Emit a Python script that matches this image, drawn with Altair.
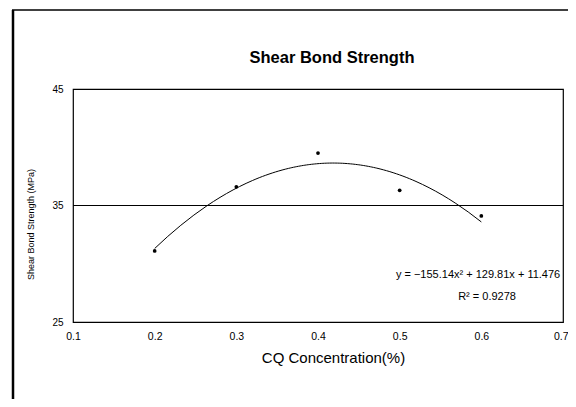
import altair as alt
import pandas as pd

conc = [0.2, 0.3, 0.4, 0.5, 0.6]
strength = [31.1, 36.6, 39.5, 36.3, 34.1]
eq_lines = ["y = \u2212155.14x\u00b2 + 129.81x + 11.476", "R\u00b2 = 0.9278"]
eq_x = [0.596, 0.607]
eq_y = [29.0, 27.15]
ref_value = [35]
title_text = ["Shear Bond Strength"]

df = pd.DataFrame({"x": conc, "y": strength})
eq = pd.DataFrame({"t": eq_lines, "x": eq_x, "y": eq_y})
ref = pd.DataFrame({"y": ref_value})
ttl = pd.DataFrame({"t": title_text})

FONT = "Liberation Sans"
xs = alt.Scale(domain=[0.1, 0.7], nice=False, zero=False)
ys = alt.Scale(domain=[25, 45], nice=False, zero=False)

xax = alt.Axis(values=[0.1, 0.2, 0.3, 0.4, 0.5, 0.6, 0.7], format=".1f", grid=False,
               ticks=False, domain=False, labelFontSize=10.5, labelPadding=9,
               labelColor="#000", title="CQ Concentration(%)", titleFontSize=15,
               titleFontWeight="normal", titlePadding=9, titleColor="#000", titleX=260,
               labelFlush=False,
               labelAlign={"condition": {"test": "datum.value >= 0.69", "value": "right"}, "value": "center"},
               labelOffset={"condition": {"test": "datum.value >= 0.69", "value": 5}, "value": 0})
yax = alt.Axis(values=[25, 35, 45], grid=False, ticks=False, domain=False,
               labelFontSize=10, labelPadding=10, labelColor="#000",
               title="Shear Bond Strength (MPa)", titleFontSize=9, titleFontWeight="normal",
               titleColor="#000", titleX=-38, titleY=135)

points = alt.Chart(df).mark_circle(size=14, color="black", opacity=1).encode(
    x=alt.X("x:Q", scale=xs, axis=xax),
    y=alt.Y("y:Q", scale=ys, axis=yax),
)

curve = alt.Chart(df).transform_regression(
    "x", "y", method="poly", order=2, extent=[0.2, 0.6]
).mark_line(color="black", strokeWidth=1).encode(
    x=alt.X("x:Q", scale=xs), y=alt.Y("y:Q", scale=ys)
)

rule = alt.Chart(ref).mark_rule(color="black", strokeWidth=1.2).encode(
    y=alt.Y("y:Q", scale=ys)
)

text = alt.Chart(eq).mark_text(font=FONT, fontSize=11, color="black", align="center").encode(
    x=alt.X("x:Q", scale=xs), y=alt.Y("y:Q", scale=ys), text="t:N"
)

title = alt.Chart(ttl).mark_text(font=FONT, fontSize=16.5, fontWeight="bold", color="black",
                                 align="center", baseline="middle").encode(
    x=alt.value(259), y=alt.value(-31), text="t:N"
)

frame_left = alt.Chart(ref).mark_rule(color="black", strokeWidth=2.5).encode(
    x=alt.value(-60), y=alt.value(-79), y2=alt.value(320)
)
frame_top = alt.Chart(ref).mark_rule(color="black", strokeWidth=1.5).encode(
    x=alt.value(-61), x2=alt.value(520), y=alt.value(-79)
)

chart = alt.layer(rule, curve, points, text, title, frame_left, frame_top).properties(
    width=490, height=233,
    autosize=alt.AutoSizeParams(type="none"),
    padding={"left": 65, "top": 81, "right": 5, "bottom": 77},
).configure(font=FONT).configure_view(stroke="black", strokeWidth=1.2)

chart.save("out.html", embed_options={"renderer": "svg", "actions": False})
